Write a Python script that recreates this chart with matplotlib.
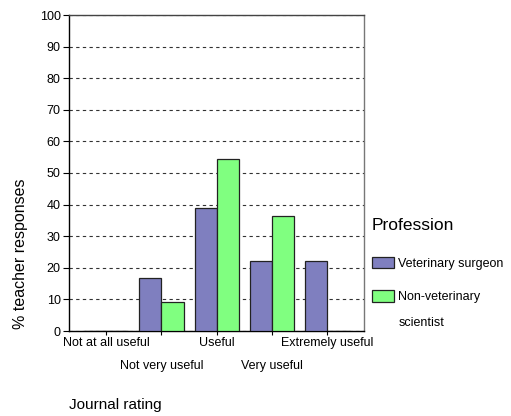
import numpy as np
import matplotlib.pyplot as plt

plt.rcParams['font.family'] = ['Liberation Sans', 'DejaVu Sans']

categories = ["Not at all useful", "Not very useful", "Useful", "Very useful", "Extremely useful"]
vet_surgeon = [0, 16.7, 38.9, 22.2, 22.2]
non_vet = [0, 9.1, 54.5, 36.4, 0]
series_names = ["Veterinary surgeon", "Non-veterinary scientist"]

fig = plt.figure(figsize=(5.11, 4.16), dpi=100)
ax = fig.add_axes([69 / 511, 1 - 331 / 416, 295 / 511, 316 / 416])

x = np.arange(len(categories))
w = 0.4
b1 = ax.bar(x - w / 2, vet_surgeon, w, color='#7f7fbf', edgecolor='#222222', linewidth=0.9, zorder=3)
b2 = ax.bar(x + w / 2, non_vet, w, color='#80ff80', edgecolor='#222222', linewidth=0.9, zorder=3)

ax.set_xlim(-0.67, 4.66)
ax.set_ylim(0, 100)
ax.set_yticks(range(0, 101, 10))
ax.yaxis.grid(True, linestyle=(0, (3, 3)), color='#333333', linewidth=0.8, zorder=0)
ax.tick_params(axis='y', labelsize=9, length=4, width=0.8, pad=2)

# staggered category labels: even ones on the first row, odd ones on the second
ax.set_xticks(x[::2])
ax.set_xticklabels(categories[::2])
ax.set_xticks(x[1::2], minor=True)
ax.set_xticklabels(categories[1::2], minor=True)
ax.tick_params(axis='x', which='major', labelsize=9, length=3, width=0.8, pad=1)
ax.tick_params(axis='x', which='minor', labelsize=9, length=3, width=0.8, pad=18)

ax.spines['left'].set_color('black')
ax.spines['bottom'].set_color('black')
ax.spines['top'].set_color('#444444')
ax.spines['right'].set_color('#777777')
for s in ax.spines.values():
    s.set_linewidth(1.0)

fig.text(21 / 511, 1 - 254 / 416, "% teacher responses", rotation=90, ha='center', va='center', fontsize=11.5)
fig.text(69 / 511, 1 - 405 / 416, "Journal rating", ha='left', va='center', fontsize=11)

first, rest = series_names[1].split(" ", 1)
leg = fig.legend([b1, b2], [series_names[0], first], title="Profession", loc='upper left',
                 bbox_to_anchor=(367 / 511, 1 - 213 / 416), frameon=False, fontsize=9,
                 title_fontsize=12.5, handlelength=1.75, handleheight=1.05,
                 handletextpad=0.3, labelspacing=1.65, borderaxespad=0.0)
leg._legend_box.align = "left"
leg._legend_box.sep = 17
fig.text(399 / 511, 1 - 323 / 416, rest, ha='left', va='center', fontsize=9)

fig.savefig("out.png", dpi=100)
